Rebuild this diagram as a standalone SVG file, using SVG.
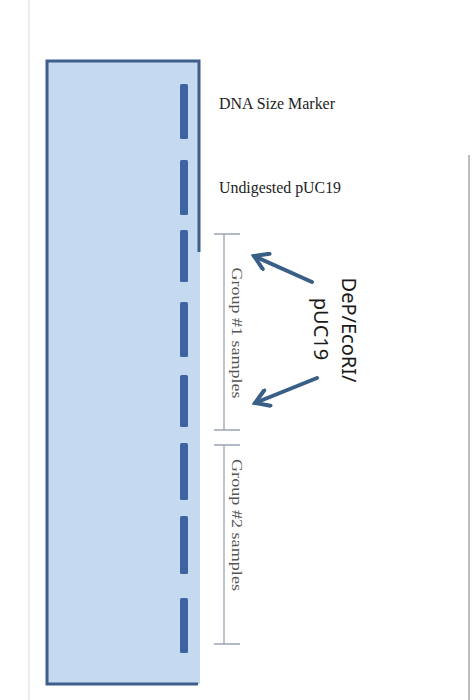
<svg xmlns="http://www.w3.org/2000/svg" width="476" height="700" viewBox="0 0 476 700">
<defs>
<style>
.band{fill:#3d64a0;}
.lbl{font-family:"Liberation Serif",serif;font-size:17px;fill:#222;}
.grp{font-family:"Liberation Serif",serif;font-size:15px;fill:#555;}
.brk{stroke:#9aa3b5;stroke-width:1.3;fill:none;}
.arr{stroke:#3a5f87;stroke-width:4;fill:none;stroke-linecap:round;}
.dep{font-family:"Noto Sans","Open Sans",sans-serif;font-size:20px;fill:#1a1a1a;}
</style>
<marker id="ah" viewBox="0 0 12 12" refX="10" refY="6" markerWidth="5" markerHeight="5" orient="auto" markerUnits="strokeWidth">
<path d="M2,1 L10,6 L2,11" fill="none" stroke="#3a5f87" stroke-width="2.4" stroke-linejoin="miter" stroke-linecap="round"/>
</marker>
</defs>
<rect width="476" height="700" fill="#ffffff"/>
<line x1="29" y1="0" x2="29" y2="700" stroke="#e6e6e6" stroke-width="1.5"/>
<line x1="469" y1="155" x2="469" y2="700" stroke="#bdbdbd" stroke-width="2"/>
<g id="gel">
<rect x="47" y="61" width="153" height="623" fill="#c5d9f1"/>
<path d="M199,252 L199,61 L47,61 L47,684 L198,684" fill="none" stroke="#3e5f8c" stroke-width="3"/>
<rect class="band" x="180" y="84" width="8" height="55" rx="1.5"/>
<rect class="band" x="180" y="160" width="8" height="55" rx="1.5"/>
<rect class="band" x="180" y="230" width="8" height="52" rx="1.5"/>
<rect class="band" x="180" y="302" width="8" height="55" rx="1.5"/>
<rect class="band" x="180" y="375" width="8" height="52" rx="1.5"/>
<rect class="band" x="180" y="443" width="8" height="57" rx="1.5"/>
<rect class="band" x="180" y="516" width="8" height="58" rx="1.5"/>
<rect class="band" x="180" y="598" width="8" height="55" rx="1.5"/>
</g>
<g id="label-marker"><text class="lbl" x="219" y="109" textLength="116" lengthAdjust="spacingAndGlyphs">DNA Size Marker</text></g>
<g id="label-undigested"><text class="lbl" x="219" y="193" textLength="122" lengthAdjust="spacingAndGlyphs">Undigested pUC19</text></g>
<g id="group1">
<path class="brk" d="M214,234 H240 M224,234 V430 M214,430 H240"/>
<text class="grp" transform="translate(232,333) rotate(90)" text-anchor="middle" textLength="131" lengthAdjust="spacingAndGlyphs">Group #1 samples</text>
</g>
<g id="group2">
<path class="brk" d="M214,445 H240 M224,445 V644 M214,644 H240"/>
<text class="grp" transform="translate(232,525) rotate(90)" text-anchor="middle" textLength="132" lengthAdjust="spacingAndGlyphs">Group #2 samples</text>
</g>
<g id="dep-label">
<text class="dep" transform="translate(342,330) rotate(90)" text-anchor="middle">DeP/EcoRI/</text>
<text class="dep" transform="translate(314,329) rotate(90)" text-anchor="middle">pUC19</text>
</g>
<g id="connectors">
<line class="arr" x1="312" y1="282" x2="254" y2="256" marker-end="url(#ah)"/>
<line class="arr" x1="317" y1="378" x2="255" y2="403" marker-end="url(#ah)"/>
</g>
</svg>
